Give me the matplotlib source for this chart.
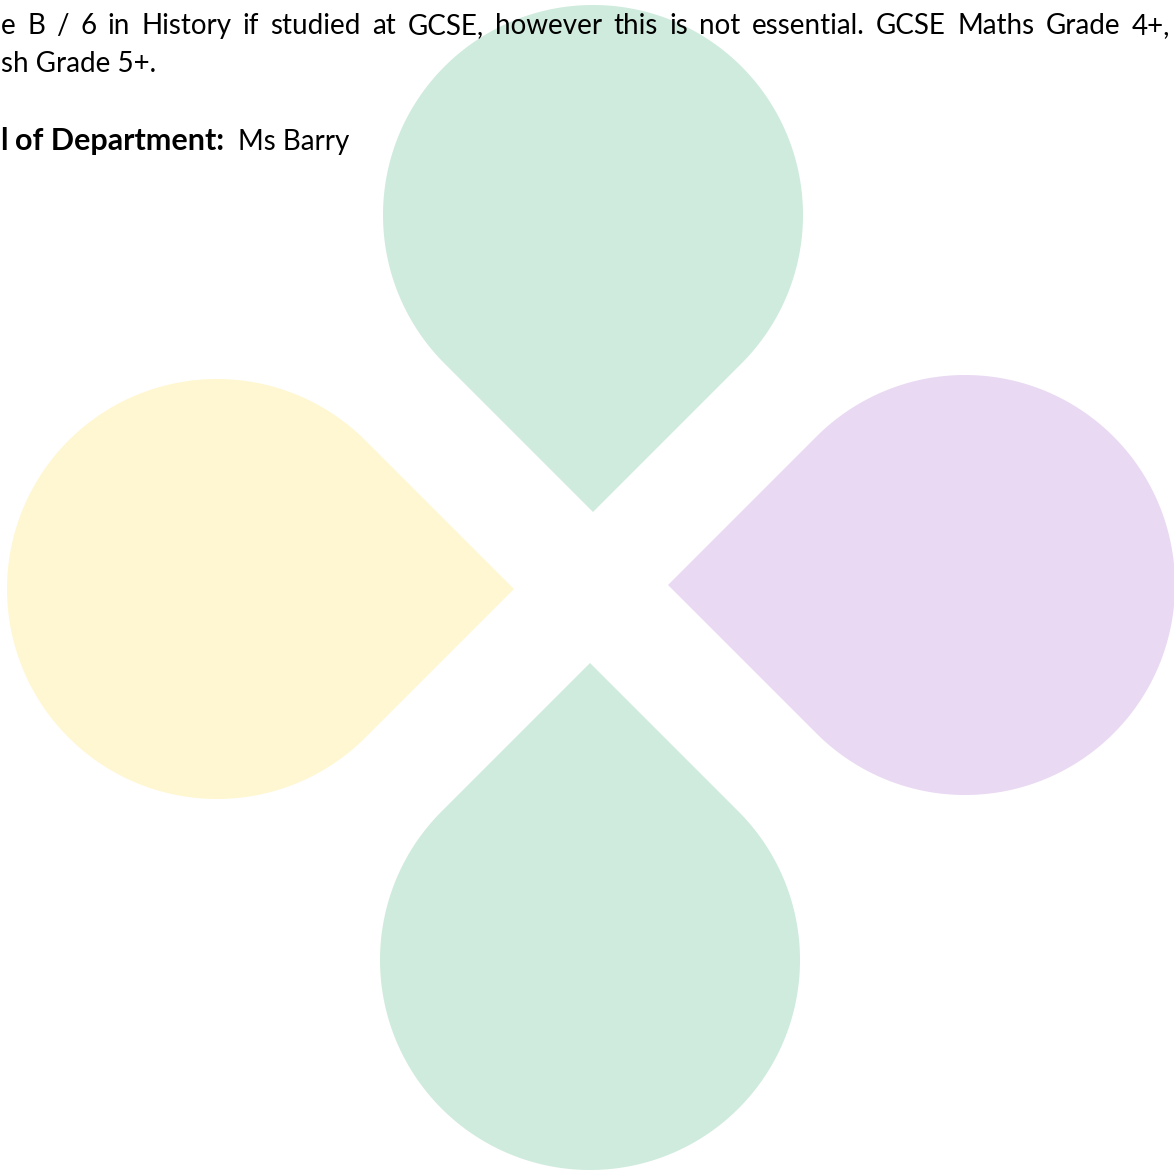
import numpy as np
import matplotlib.pyplot as plt
from matplotlib.patches import Polygon

# page text (lines cut at the left edge of the crop)
line1_words = ["e", "B", "/", "6", "in", "History", "if", "studied", "at", "GCSE,",
               "however", "this", "is", "not", "essential.", "GCSE", "Maths",
               "Grade", "4+,"]
line2_text = "sh Grade 5+."
line3_start = "l"
line3_bold = "of Department:"
line3_name = "Ms Barry"

# teardrops: circle centre (px), radius, direction of the point (deg, screen coords)
drop_names = ["top", "left", "right", "bottom"]
drop_cx = [593, 217, 965, 590]
drop_cy = [215, 589, 585, 960]
drop_r = [210, 210, 210, 210]
drop_dir = [90, 0, 180, 270]     # 90 = pointing down on the page
drop_colors = ["#cfebdd", "#fff7d1", "#e9d9f2", "#cfebdd"]

W, H = 1174, 1171
fig = plt.figure(figsize=(W / 100, H / 100), dpi=100)
ax = fig.add_axes([0, 0, 1, 1])
ax.set_xlim(0, W)
ax.set_ylim(H, 0)
ax.axis('off')


def teardrop(cx, cy, r, direction, n=200):
    a = np.deg2rad(direction)
    d = r * np.sqrt(2)
    tip = (cx + d * np.cos(a), cy + d * np.sin(a))
    t = np.linspace(a + np.pi / 4, a + 2 * np.pi - np.pi / 4, n)
    pts = np.column_stack([cx + r * np.cos(t), cy + r * np.sin(t)])
    return np.vstack([pts, tip])


for cx, cy, r, dr, col in zip(drop_cx, drop_cy, drop_r, drop_dir, drop_colors):
    ax.add_patch(Polygon(teardrop(cx, cy, r, dr), closed=True,
                         facecolor=col, edgecolor='none', zorder=1))

font = 'Lato'
fs = 20
renderer = fig.canvas.get_renderer()


def width_of(txt):
    bb = txt.get_window_extent(renderer=renderer)
    return bb.width


# justified first line
texts = [ax.text(0, 34, w, fontsize=fs, family=font, va='baseline', zorder=3)
         for w in line1_words]
widths = [width_of(t) for t in texts]
x0, x1 = 1, 1170
gap = (x1 - x0 - sum(widths)) / (len(texts) - 1)
x = x0
for t, w in zip(texts, widths):
    t.set_x(x)
    x += w + gap

ax.text(1, 72, line2_text, fontsize=fs, family=font, va='baseline', zorder=3)

# last letter of "Head", rest is off the page
ax.text(0, 150, line3_start, fontsize=fs + 2, family=font, weight='bold',
        va='baseline', zorder=3)
ax.text(15, 150, line3_bold, fontsize=fs + 2, family=font, weight='bold',
        va='baseline', zorder=3)
ax.text(238, 150, line3_name, fontsize=fs, family=font,
        va='baseline', zorder=3)

fig.savefig('out.png', dpi=100)
